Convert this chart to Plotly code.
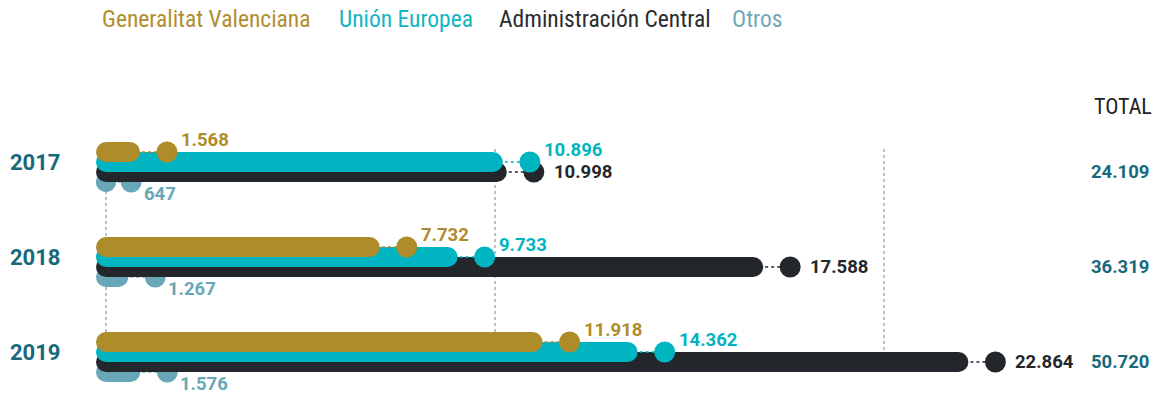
import plotly.graph_objects as go

# ---------------- data ----------------
years = ["2017", "2018", "2019"]
series_names = ["Generalitat Valenciana", "Unión Europea", "Administración Central", "Otros"]
gv = [1568, 7732, 11918]
ue = [10896, 9733, 14362]
ac = [10998, 17588, 22864]
otros = [647, 1267, 1576]
totals = [24109, 36319, 50720]
grid_ticks = [0, 10000, 20000]
total_title = "TOTAL"

# ---------------- style ----------------
colors = ["#AF8C2A", "#00B5C1", "#23272B", "#67A7B7"]
legend_colors = ["#B08E2E", "#12B6C2", "#2A2C2E", "#6FA9B9"]
year_color = "#18697C"
FONT = "Roboto"
COND = "Roboto Condensed, Liberation Sans Narrow, Roboto"

W, H = 1166, 400
X0_PX = 106          # pixel of value 0
PX_PER_UNIT = 0.0389 # pixels per unit
GROUP_PX = 95
ROW_PX = 10
FIRST_ROW_PX = 152
BAR_W = 20
DOT = 21
GAP = 37 / PX_PER_UNIT  # distance (data units) between bar end cap centre and dot

x_range = [-X0_PX / PX_PER_UNIT, (W - X0_PX) / PX_PER_UNIT]
row_step = ROW_PX / GROUP_PX
y_range = [(H - FIRST_ROW_PX) / GROUP_PX, -FIRST_ROW_PX / GROUP_PX]


def fmt(v):
    return f"{v:,}".replace(",", ".")


values = [gv, ue, ac, otros]
label_shift = [(12, 12), (12, 12), (18, 0), (11, -12)]
draw_order = [3, 2, 1, 0]

fig = go.Figure()
annotations = []

for j in draw_order:
    vals = values[j]
    c = colors[j]
    bx, by, cx, cy, dy = [], [], [], [], []
    for g, v in enumerate(vals):
        y = g + j * row_step
        end = max(0, v - GAP)
        bx += [0, end, None]
        by += [y, y, None]
        cx += [end, v, None]
        cy += [y, y, None]
        dy.append(y)
        xs, ys = label_shift[j]
        annotations.append(dict(x=v, y=y, xref="x", yref="y", text=fmt(v), showarrow=False,
                                xanchor="left", yanchor="middle", xshift=xs, yshift=ys,
                                font=dict(family=FONT, size=18.5, color=c, weight="bold")))
    fig.add_trace(go.Scatter(x=bx, y=by, mode="lines+markers",
                             line=dict(color=c, width=BAR_W),
                             marker=dict(color=c, size=BAR_W),
                             hoverinfo="skip", showlegend=False))
    fig.add_trace(go.Scatter(x=cx, y=cy, mode="lines",
                             line=dict(color=c, width=1.5, dash="dot"),
                             hoverinfo="skip", showlegend=False))
    fig.add_trace(go.Scatter(x=vals, y=dy, mode="markers", name=series_names[j],
                             marker=dict(color=c, size=DOT), showlegend=False))

# grid lines
shapes = []
for t in grid_ticks:
    shapes.append(dict(type="line", xref="x", yref="y", x0=t, x1=t,
                       y0=-0.3 * row_step, y1=2 + 2 * row_step, layer="below",
                       line=dict(color="#808080", width=1, dash="dot")))

# year labels and totals
for g, yr in enumerate(years):
    annotations.append(dict(x=8 / W, y=g + row_step, xref="paper", yref="y", text=yr,
                            showarrow=False, xanchor="left", yanchor="middle",
                            font=dict(family=FONT, size=22, color=year_color, weight="bold")))
    annotations.append(dict(x=1151 / W, y=g + 2 * row_step, xref="paper", yref="y",
                            text=fmt(totals[g]), showarrow=False, xanchor="right",
                            yanchor="middle",
                            font=dict(family=FONT, size=18.5, color=year_color, weight="bold")))

annotations.append(dict(x=1154 / W, y=1 - 106 / H, xref="paper", yref="paper", text=total_title,
                        showarrow=False, xanchor="right", yanchor="middle",
                        font=dict(family=COND, size=22, color="#1E1E1E")))

# legend as coloured text
legend_x = [100, 337, 497, 730]
for name, lx, lc in zip(series_names, legend_x, legend_colors):
    annotations.append(dict(x=lx / W, y=1 - 19 / H, xref="paper", yref="paper", text=name,
                            showarrow=False, xanchor="left", yanchor="middle",
                            font=dict(family=COND, size=23.5, color=lc)))

fig.update_layout(
    width=W, height=H,
    margin=dict(l=0, r=0, t=0, b=0),
    paper_bgcolor="white", plot_bgcolor="white",
    xaxis=dict(range=x_range, visible=False, fixedrange=True),
    yaxis=dict(range=y_range, visible=False, fixedrange=True),
    shapes=shapes, annotations=annotations, showlegend=False,
)

fig.write_html("out.html", config={"displayModeBar": False},
               post_script="document.body.style.margin='0';document.body.style.overflow='hidden';")
